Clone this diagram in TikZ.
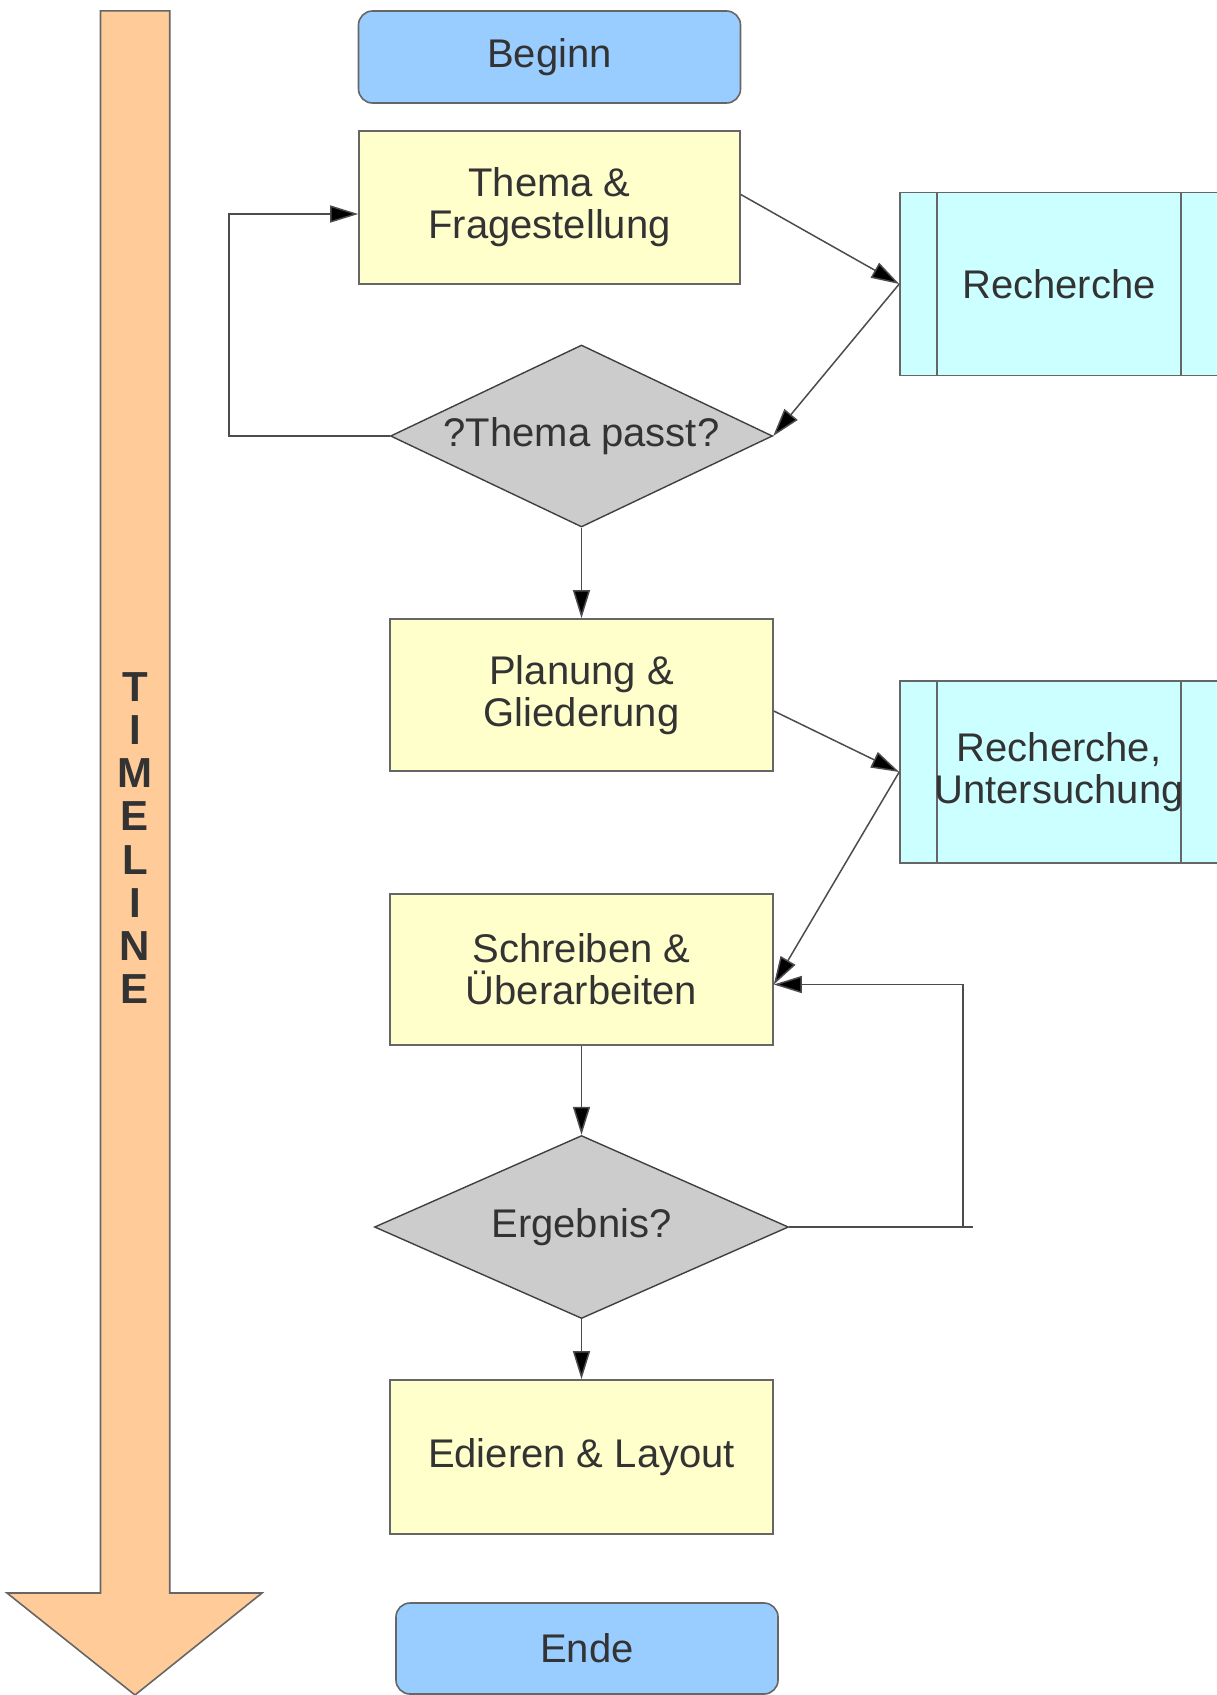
\documentclass[tikz,border=0pt]{standalone}
\usepackage{fontspec}
\setmainfont{Liberation Sans}
\usetikzlibrary{shapes.geometric,arrows.meta}
\definecolor{termblue}{HTML}{99CCFF}
\definecolor{procyellow}{HTML}{FFFFCC}
\definecolor{subcyan}{HTML}{CCFFFF}
\definecolor{decgray}{HTML}{CCCCCC}
\definecolor{timeorange}{HTML}{FFCC99}
\definecolor{edgegray}{HTML}{666666}
\definecolor{textgray}{HTML}{333333}

\begin{document}
\begin{tikzpicture}[
    x=1pt, y=-1pt,
    every node/.style={text=textgray, align=center, font=\fontsize{40}{42}\selectfont},
    startstop/.style={rectangle, rounded corners=14pt, draw=edgegray, line width=1.6pt, fill=termblue, minimum width=382pt, minimum height=92pt},
    procbox/.style={rectangle, draw=edgegray, line width=1.6pt, fill=procyellow, minimum width=383pt, minimum height=152pt},
    subproc/.style={rectangle, draw=edgegray, line width=1.6pt, fill=subcyan, minimum width=318pt, minimum height=183pt, inner sep=0pt,
      path picture={
        \draw[edgegray, line width=1.6pt]
          ([xshift=37pt]path picture bounding box.north west) -- ([xshift=37pt]path picture bounding box.south west)
          ([xshift=-37pt]path picture bounding box.north east) -- ([xshift=-37pt]path picture bounding box.south east);
      }},
    decision/.style={diamond, draw=black!75, line width=1.4pt, fill=decgray, inner sep=0pt, aspect=2.2},
    conn/.style={draw=black!70, line width=1.5pt, -{Triangle[length=28pt,width=17pt,fill=black]}},
    timeline/.style={draw=black!60, line width=1.6pt, fill=timeorange}
  ]
  \useasboundingbox (0,0) rectangle (1216,1695);

  % timeline
  \draw[timeline] (100.5,10.8) -- (169.7,10.8) -- (169.7,1593) -- (262,1593)
    -- (135,1695) -- (7,1593) -- (100.5,1593) -- cycle;
  \node[font=\bfseries\fontsize{42}{43.2}\selectfont] (tl) at (135,838) {T\\I\\M\\E\\L\\I\\N\\E};

  % flow
  \node[startstop] (begin) at (549.5,57) {Beginn};
  \node[procbox, minimum width=381pt, minimum height=153pt] (topic) at (549.5,207.5) {Thema \&\\Fragestellung};
  \node[subproc] (search1) at (1059,284) {Recherche};
  \node[decision, minimum width=382pt, minimum height=182pt] (fits) at (581.5,436) {?Thema passt?};
  \node[procbox] (plan) at (581.5,695) {Planung \&\\Gliederung};
  \node[subproc, minimum height=182pt] (search2) at (1059,772) {Recherche,\\Untersuchung};
  \node[procbox, minimum height=151pt] (write) at (581.5,969.5) {Schreiben \&\\Überarbeiten};
  \node[decision, minimum width=414pt, minimum height=183pt] (result) at (581.5,1227) {Ergebnis?};
  \node[procbox, minimum height=154pt] (edit) at (581.5,1457) {Edieren \& Layout};
  \node[startstop, minimum height=91pt] (end) at (587,1648.5) {Ende};

  \coordinate (writein) at ([yshift=-15pt]write.east);
  \coordinate (loopup) at (963,1227);

  \draw[conn] ([yshift=13pt]topic.east) -- (search1.west);
  \draw[conn] (search1.west) -- (fits.east);
  \draw[conn] (fits.west) -- ++(-161,0) |- ([yshift=-6.5pt]topic.west);
  \draw[conn] (fits.south) -- (plan.north);
  \draw[conn] ([yshift=-16pt]plan.east) -- (search2.west);
  \draw[conn] (search2.west) -- (writein);
  \draw[conn] (write.south) -- (result.north);
  \draw[black!70, line width=1.5pt] (result.east) -- ++(184,0);
  \draw[conn] (loopup) |- (writein);
  \draw[conn] (result.south) -- (edit.north);
\end{tikzpicture}
\end{document}
